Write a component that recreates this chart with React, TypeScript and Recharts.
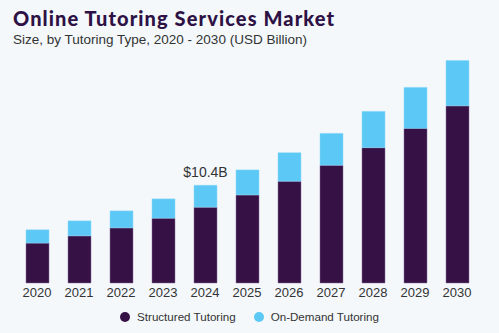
import { BarChart, Bar, XAxis, YAxis, LabelList } from 'recharts'

const YEARS = ['2020', '2021', '2022', '2023', '2024', '2025', '2026', '2027', '2028', '2029', '2030']
const STRUCTURED = [4.25, 5.02, 5.87, 6.9, 8.07, 9.37, 10.83, 12.53, 14.4, 16.45, 18.85]
const ON_DEMAND = [1.41, 1.59, 1.8, 2.05, 2.33, 2.66, 3.03, 3.39, 3.86, 4.36, 4.82]
const CALLOUT_YEAR = '2024'
const CALLOUT_TEXT = '$10.4B'

const DARK = '#361145'
const LIGHT = '#5bc8f5'
const BG = '#f4f8fb'
const FONT = '"Liberation Sans", Arial, sans-serif'

const data = YEARS.map((year, i) => ({ year, structured: STRUCTURED[i], onDemand: ON_DEMAND[i] }))

function Callout(props: any) {
  const { x, y, width, index } = props
  if (data[index].year !== CALLOUT_YEAR) return null
  return (
    <text x={x + width / 2} y={y - 8} textAnchor="middle" fontSize={14} fill="#333" fontFamily={FONT}>
      {CALLOUT_TEXT}
    </text>
  )
}

export default function App() {
  return (
    <div style={{ position: 'absolute', top: 0, left: 0, width: 499, height: 333, background: BG, fontFamily: FONT }}>
      <div style={{ position: 'absolute', left: 13, top: 6, fontSize: 20, fontWeight: 900, letterSpacing: 1.1, color: '#2e1145', fontFamily: 'Lato, sans-serif', whiteSpace: 'nowrap' }}>
        Online Tutoring Services Market
      </div>
      <div style={{ position: 'absolute', left: 13, top: 32, fontSize: 13.5, color: '#333', whiteSpace: 'nowrap' }}>
        Size, by Tutoring Type, 2020 - 2030 (USD Billion)
      </div>
      <div style={{ position: 'absolute', left: 0, top: 0 }}>
        <BarChart width={499} height={333} data={data} margin={{ top: 48, right: 21, left: 16, bottom: 20 }} barSize={23}>
          <XAxis dataKey="year" axisLine={false} tickLine={false} interval={0} tick={{ fontSize: 13, fill: '#333', fontFamily: FONT, dy: -3 }} />
          <YAxis hide domain={[0, 25]} />
          <Bar dataKey="structured" stackId="a" fill={DARK} stroke="#8a6f9a" strokeWidth={0.5} isAnimationActive={false} />
          <Bar dataKey="onDemand" stackId="a" fill={LIGHT} stroke="#8fd8f8" strokeWidth={0.5} isAnimationActive={false}>
            <LabelList dataKey="onDemand" content={Callout} />
          </Bar>
        </BarChart>
      </div>
      <div style={{ position: 'absolute', top: 310, left: 0, width: 499, display: 'flex', justifyContent: 'center', fontSize: 11.6, color: '#333', gap: 18 }}>
        {[['Structured Tutoring', DARK], ['On-Demand Tutoring', LIGHT]].map(([name, c]) => (
          <div key={name} style={{ display: 'flex', alignItems: 'center' }}>
            <span style={{ width: 10, height: 10, borderRadius: 5, background: c, marginRight: 7 }} />
            {name}
          </div>
        ))}
      </div>
    </div>
  )
}
